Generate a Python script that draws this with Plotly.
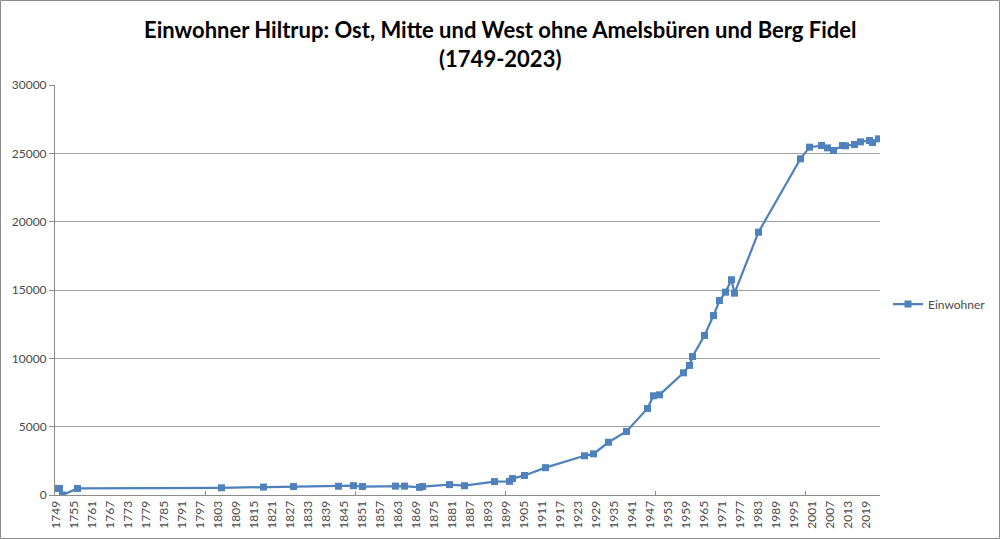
import plotly.graph_objects as go

# Data
years = [1749, 1750, 1751, 1756, 1804, 1818, 1828, 1843, 1848, 1851,
         1862, 1865, 1870, 1871, 1880, 1885, 1895, 1900, 1901, 1905,
         1912, 1925, 1928, 1933, 1939, 1946, 1948, 1950, 1958, 1960,
         1961, 1965, 1968, 1970, 1972, 1974, 1975, 1983, 1997, 2000,
         2004, 2006, 2008, 2011, 2012, 2015, 2017, 2020, 2021, 2023]
einwohner = [480, 480, 0, 480, 530, 580, 620, 640, 680, 620,
             650, 650, 560, 620, 760, 680, 980, 1000, 1200, 1430,
             2000, 2870, 3010, 3860, 4650, 6330, 7260, 7330, 8940, 9480,
             10130, 11670, 13130, 14230, 14840, 15750, 14770, 19230, 24600, 25450,
             25570, 25400, 25210, 25570, 25550, 25650, 25840, 25940, 25790, 26060]

x_tick_years = list(range(1749, 2020, 6))
x_major_marks = [1798.5, 1848.5, 1898.5, 1948.5, 1998.5]
y_ticks = [0, 5000, 10000, 15000, 20000, 25000, 30000]

title_text = "Einwohner Hiltrup: Ost, Mitte und West ohne Amelsbüren und Berg Fidel<br>(1749-2023)"
series_name = "Einwohner"

W, H = 1000, 539
ML, MR, MT, MB = 55, 120, 85, 44
PW, PH = W - ML - MR, H - MT - MB

blue = "#4F81BD"
axis_gray = "#8C8C8C"
grid_gray = "#A0A0A0"
text_col = "#4A4A4A"

fig = go.Figure()
fig.add_trace(go.Scatter(
    x=years, y=einwohner, name=series_name, mode="lines+markers",
    line=dict(color=blue, width=2.25),
    marker=dict(symbol="square", size=7, color=blue),
    showlegend=True,
))
# invisible trace on secondary x axis to show 50-year tick marks
fig.add_trace(go.Scatter(x=[1748.5], y=[None], xaxis="x2", showlegend=False, hoverinfo="skip"))

fig.update_layout(
    width=W, height=H,
    margin=dict(l=ML, r=MR, t=MT, b=MB, autoexpand=False),
    paper_bgcolor="white", plot_bgcolor="white",
    font=dict(family="Lato, 'Open Sans', sans-serif", size=12, color=text_col),
    xaxis=dict(range=[1748.5, 2023.5], tickmode="array", tickvals=x_tick_years,
               ticktext=[str(v) for v in x_tick_years], tickangle=-90,
               showgrid=False, zeroline=False, showline=True, linecolor=axis_gray,
               linewidth=1, ticks="", tickfont=dict(size=12, color=text_col)),
    xaxis2=dict(range=[1748.5, 2023.5], overlaying="x", side="bottom", tickmode="array",
                tickvals=x_major_marks, showticklabels=False, ticks="inside",
                ticklen=4, tickcolor=axis_gray, showgrid=False, zeroline=False,
                showline=False, anchor="y"),
    yaxis=dict(range=[0, 30000], tickmode="array", tickvals=y_ticks,
               ticktext=[str(v) for v in y_ticks], showgrid=True, gridcolor=grid_gray,
               gridwidth=1, zeroline=False, showline=True, linecolor=axis_gray,
               ticks="outside", ticklen=5, tickcolor=axis_gray,
               tickfont=dict(size=12, color=text_col)),
    legend=dict(x=(888 - ML) / PW, xanchor="left", y=(H - MB - 304) / PH, yanchor="middle",
                font=dict(size=12, color=text_col), bgcolor="rgba(0,0,0,0)",
                itemwidth=30),
    showlegend=True,
)

# Title as annotation (two lines)
fig.add_annotation(text=title_text, xref="paper", yref="paper",
                   x=(500 - ML) / PW, xanchor="center",
                   y=1 + (MT - 14) / PH, yanchor="top", showarrow=False,
                   font=dict(family="Lato", size=22, color="black", weight="bold"))

# Chart-area border
fig.add_shape(type="rect", xref="paper", yref="paper",
              x0=(0.5 - ML) / PW, x1=(W - 0.5 - ML) / PW,
              y0=-(MB - 0.5) / PH, y1=1 + (MT - 0.5) / PH,
              line=dict(color=axis_gray, width=1), layer="below")

fig.write_html("out.html")
